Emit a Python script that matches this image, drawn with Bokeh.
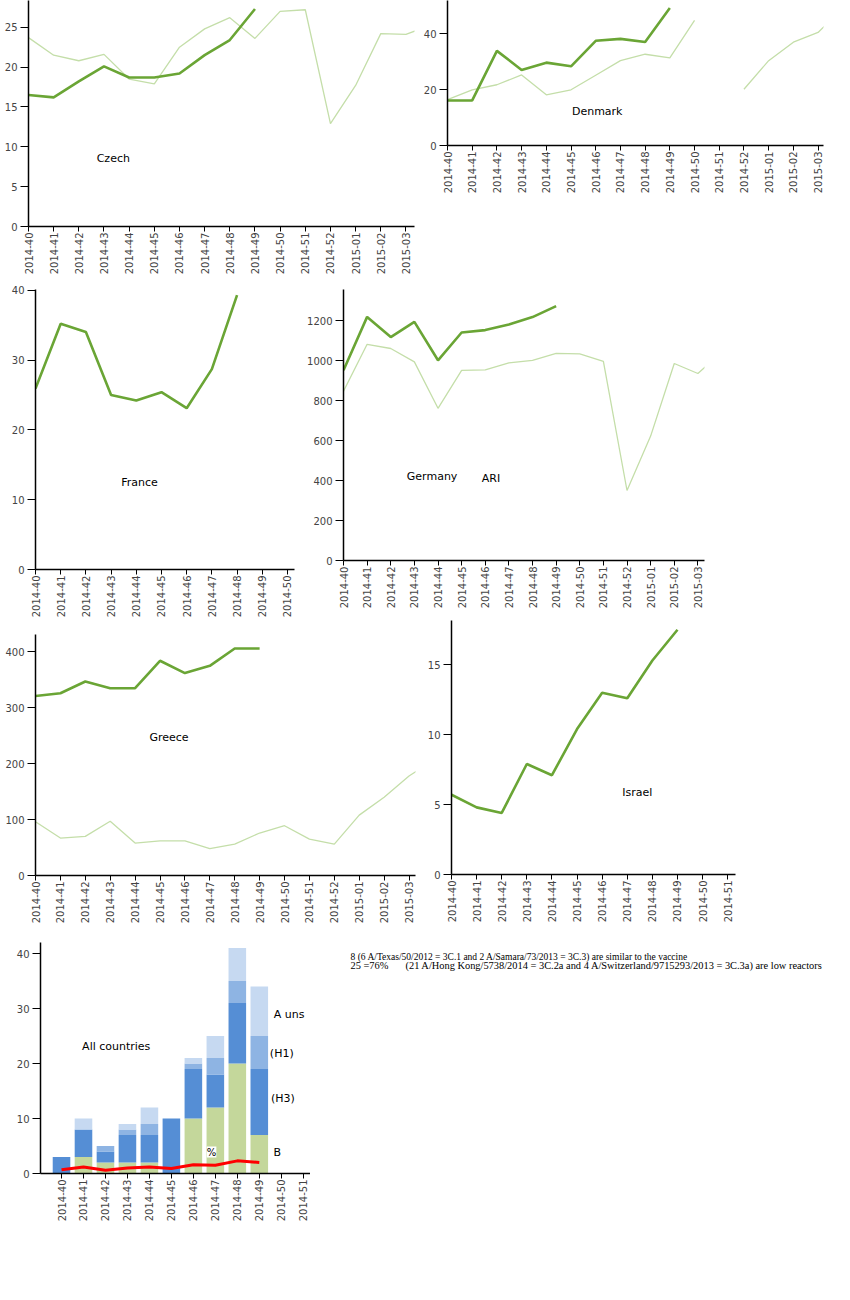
import math
import numpy as np
from bokeh.plotting import figure
from bokeh.layouts import row, column
from bokeh.models import Range1d, FixedTicker, SingleIntervalTicker, Label
from bokeh.core.properties import value
from bokeh.embed import file_html
from bokeh.resources import INLINE

# ---------------- data ----------------
weeks = ["2014-40", "2014-41", "2014-42", "2014-43", "2014-44", "2014-45",
         "2014-46", "2014-47", "2014-48", "2014-49", "2014-50", "2014-51",
         "2014-52", "2015-01", "2015-02", "2015-03", "2015-04"]

czech_cur = [16.5, 16.2, 18.2, 20.1, 18.7, 18.7, 19.2, 21.5, 23.4, 27.3]
czech_prev = [23.7, 21.5, 20.8, 21.6, 18.5, 17.9, 22.5, 24.8, 26.2, 23.6,
              27.0, 27.2, 12.9, 17.7, 24.2, 24.1, 25.3]

denmark_cur = [16.1, 16.1, 33.8, 27.0, 29.6, 28.3, 37.4, 38.1, 37.0, 49.1]
denmark_prev = [16.4, 19.9, 21.7, 25.2, 18.1, 19.9, 25.1, 30.3, 32.6, 31.3,
                44.7, float("nan"), 20.1, 30.3, 36.9, 40.4, 48.9]

france_cur = [25.9, 35.2, 34.0, 25.0, 24.2, 25.4, 23.1, 28.7, 39.3]

germany_cur = [951, 1218, 1117, 1193, 1001, 1140, 1152, 1180, 1217, 1272]
germany_prev = [846, 1081, 1060, 993, 761, 951, 953, 988, 1001, 1036,
                1033, 996, 350, 622, 985, 935, 1040]

greece_cur = [321, 326, 347, 335, 335, 384, 362, 375, 406, 406]
greece_prev = [96, 67, 70, 97, 58, 62, 62, 48, 56, 76, 89, 65, 56, 108, 140, 178, 206]

israel_cur = [5.7, 4.8, 4.4, 7.9, 7.1, 10.4, 13.0, 12.6, 15.3, 17.5]

# All countries: virus detections per week
virus_B = [0, 3, 2, 2, 2, 0, 10, 12, 20, 7]
virus_H3 = [3, 5, 2, 5, 5, 10, 9, 6, 11, 12]
virus_H1 = [0, 0, 1, 1, 2, 0, 1, 3, 4, 6]
virus_Aunsub = [0, 2, 0, 1, 3, 0, 1, 4, 6, 9]
pct_positive = [0.7, 1.2, 0.6, 1.0, 1.2, 0.9, 1.6, 1.5, 2.3, 2.0]

note_line1 = "8 (6 A/Texas/50/2012 = 3C.1 and 2  A/Samara/73/2013 = 3C.3) are  similar to the vaccine"
note_line2a = "25 =76%"
note_line2b = "(21 A/Hong Kong/5738/2014 = 3C.2a and 4  A/Switzerland/9715293/2013 = 3C.3a)  are low reactors"

# ---------------- style ----------------
DARK = "#6aa535"
LIGHT = "#c4dea9"
FONT = "DejaVu Sans"


def make_fig(width, height, left, right, top, bottom, xr, yr, nticks, yint):
    p = figure(width=width, height=height, output_backend="svg", toolbar_location=None,
               x_range=Range1d(*xr), y_range=Range1d(*yr),
               min_border_left=left, min_border_right=right,
               min_border_top=top, min_border_bottom=bottom)
    p.xgrid.visible = False
    p.ygrid.visible = False
    p.outline_line_color = None
    p.background_fill_color = None
    p.border_fill_color = None
    p.xaxis.ticker = FixedTicker(ticks=list(range(nticks)))
    p.xaxis.major_label_overrides = {i: weeks[i] for i in range(nticks)}
    p.xaxis.major_label_orientation = math.pi / 2
    p.xaxis.major_label_standoff = 1
    p.yaxis.ticker = SingleIntervalTicker(interval=yint)
    for ax in p.axis:
        ax.axis_line_color = "black"
        ax.axis_line_width = 1.5
        ax.major_tick_line_color = "black"
        ax.major_tick_line_width = 1
        ax.major_tick_out = 5
        ax.major_tick_in = 0
        ax.minor_tick_line_color = None
        ax.major_label_text_font = FONT
        ax.major_label_text_font_size = "10px"
        ax.major_label_text_color = "#444444"
    p.yaxis.major_tick_out = 8
    p.yaxis.major_label_standoff = 3
    return p


def add_lines(p, cur, prev=None):
    if prev is not None:
        p.line(x=list(range(len(prev))), y=np.array(prev, dtype=float),
               line_color=LIGHT, line_width=1.3)
    p.line(x=list(range(len(cur))), y=cur, line_color=DARK, line_width=2.6)


def add_name(p, x, y, txt):
    p.text(x=[x], y=[y], text=[txt], text_font=value(FONT), text_font_size="11px",
           text_color="black", text_align="center", text_baseline="middle")


# Row 1
cz = make_fig(420, 282, 28, 6, 0, 56, (0, 15.34), (0, 28.36), 16, 5)
add_lines(cz, czech_cur, czech_prev)
add_name(cz, 3.37, 8.5, "Czech")

dk = make_fig(414, 282, 24, 11, 0, 137, (0, 15.22), (0, 51.8), 16, 20)
add_lines(dk, denmark_cur, denmark_prev)
add_name(dk, 6.06, 12.25, "Denmark")

# Row 2
fr = make_fig(300, 338, 35, 6, 7, 50, (0, 10.28), (0, 40.1), 11, 10)
add_lines(fr, france_cur)
add_name(fr, 4.13, 12.5, "France")

de = make_fig(534, 338, 43, 130, 7, 60, (0, 15.28), (0, 1355), 16, 200)
add_lines(de, germany_cur, germany_prev)
add_name(de, 3.75, 420, "Germany")
add_name(de, 6.24, 411, "ARI")

# Row 3
gr = make_fig(420, 310, 35, 5, 14, 55, (0, 15.26), (0, 431), 16, 100)
add_lines(gr, greece_cur, greece_prev)
add_name(gr, 5.36, 247.5, "Greece")

il = make_fig(414, 310, 31, 99, 0, 56, (0, 11.31), (0, 18.16), 12, 5)
add_lines(il, israel_cur)
add_name(il, 7.4, 5.83, "Israel")

# Row 4: all countries
ac = make_fig(310, 298, 40, 0, 12, 55, (-0.956, 11.33), (0, 42), 12, 10)
xs = list(range(len(virus_B)))
ac.text(x=[9.66, 9.48, 9.53, 9.65], y=[28.9, 21.9, 13.6, 3.8],
        text=["A uns", "(H1)", "(H3)", "B"], text_font=value(FONT),
        text_font_size="11px", text_color="black", text_align="left",
        text_baseline="middle")
src = dict(x=xs, B=virus_B, H3=virus_H3, H1=virus_H1, A=virus_Aunsub)
ac.vbar_stack(["B", "H3", "H1", "A"], x="x", width=0.8, source=src,
              color=["#c4d79b", "#558ed5", "#8eb4e3", "#c6d9f1"], line_color=None)
ac.line(x=xs, y=pct_positive, line_color="#ff0000", line_width=3)
ac.add_layout(Label(x=6.83, y=3.9, text="%", text_font=FONT, text_font_size="10px",
                    text_align="center", text_baseline="middle",
                    background_fill_color="white", text_color="black"))
add_name(ac, 2.49, 23.1, "All countries")

tx = figure(width=524, height=298, output_backend="svg", toolbar_location=None,
            x_range=Range1d(0, 524), y_range=Range1d(298, 0),
            min_border=0)
tx.axis.visible = False
tx.xgrid.visible = False
tx.ygrid.visible = False
tx.outline_line_color = None
tx.text(x=[40], y=[26], text=[note_line1], text_font=value("Liberation Serif"),
        text_font_size="9.5px", text_color="black", text_align="left",
        text_baseline="middle")
tx.text(x=[40, 95], y=[35, 35], text=[note_line2a, note_line2b],
        text_font=value("Liberation Serif"),
        text_font_size="10.4px", text_color="black", text_align="left",
        text_baseline="middle")


def solo(p):
    return column(p)


layout = column(row(solo(cz), solo(dk)), row(solo(fr), solo(de)),
                row(solo(gr), solo(il)), row(solo(ac), solo(tx)))

open("out.html", "w").write(file_html(layout, INLINE))
